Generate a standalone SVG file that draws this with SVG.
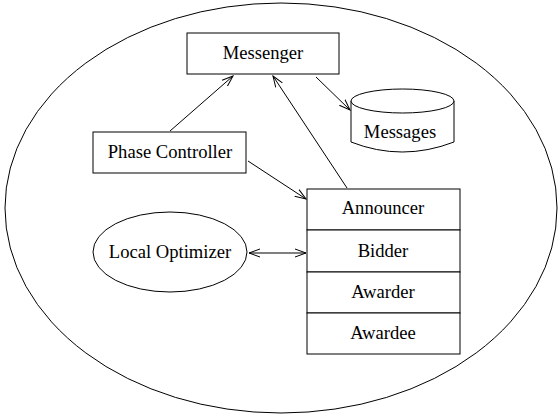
<svg xmlns="http://www.w3.org/2000/svg" width="559" height="416" viewBox="0 0 559 416">
<style>
.s{fill:none;stroke:#000;stroke-width:1}
.b{fill:#fff;stroke:#000;stroke-width:1}
text{font-family:"Liberation Serif","Times New Roman",serif;font-size:18.6px;fill:#000;text-anchor:middle}
</style>
<defs>
<marker id="a" viewBox="0 0 12 10" refX="11" refY="5" markerWidth="12" markerHeight="10" markerUnits="userSpaceOnUse" orient="auto-start-reverse">
<path d="M0,1 L11,5 L0,9" fill="none" stroke="#000" stroke-width="1"/>
</marker>
</defs>
<ellipse class="s" cx="281" cy="208" rx="276" ry="205"/>
<g id="messenger"><rect class="b" x="187" y="33" width="152" height="41"/><text x="263" y="59">Messenger</text></g>
<g id="messages"><path class="b" d="M351,101 L351,142 Q402,162 454,142 L454,101"/><ellipse class="b" cx="402.5" cy="101" rx="51.5" ry="12"/><text x="400" y="138">Messages</text></g>
<g id="phase-controller"><rect class="b" x="93" y="132" width="153" height="41"/><text x="170" y="158">Phase Controller</text></g>
<g id="local-optimizer"><ellipse class="b" cx="170" cy="252" rx="77" ry="40"/><text x="170" y="258">Local Optimizer</text></g>
<g id="announcer"><rect class="b" x="307" y="189" width="153" height="41"/><text x="383" y="214">Announcer</text></g>
<g id="bidder"><rect class="b" x="307" y="230" width="153" height="42"/><text x="383" y="257">Bidder</text></g>
<g id="awarder"><rect class="b" x="307" y="272" width="153" height="41"/><text x="383" y="298">Awarder</text></g>
<g id="awardee"><rect class="b" x="307" y="313" width="153" height="41"/><text x="383" y="339">Awardee</text></g>
<g id="connectors">
<line class="s" x1="170" y1="131" x2="233" y2="76" marker-end="url(#a)"/>
<line class="s" x1="347" y1="188" x2="273" y2="76" marker-end="url(#a)"/>
<line class="s" x1="316" y1="77" x2="350" y2="110" marker-end="url(#a)"/>
<line class="s" x1="248" y1="161" x2="306" y2="199" marker-end="url(#a)"/>
<line class="s" x1="249" y1="253" x2="306" y2="253" marker-start="url(#a)" marker-end="url(#a)"/>
</g>
</svg>
